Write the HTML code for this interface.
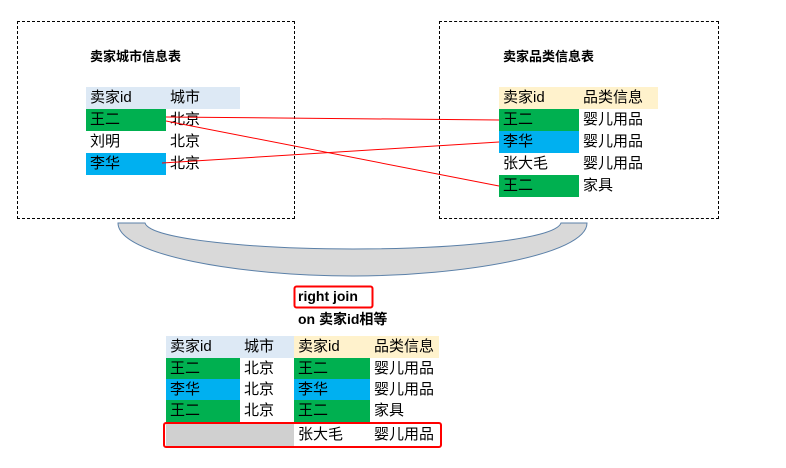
<!DOCTYPE html>
<html><head><meta charset="utf-8"><style>
body{margin:0;width:786px;height:468px;background:#fff;overflow:hidden;position:relative;font-family:"Liberation Sans","Noto Sans CJK SC",sans-serif;font-size:15px;color:#000}
.a{position:absolute}
.c{position:absolute;height:22px;line-height:22px;padding-left:4px;box-sizing:border-box;white-space:nowrap}
.g{background:#00b050}.b{background:#00b0f0}.h{background:#dde9f5}.y{background:#fff2cc}.gr{background:#d0d0d0}
.t{font-weight:bold;font-size:13px}
.t2{font-weight:bold;font-size:14px}
</style></head><body>
<div class="a" style="left:17px;top:21px;width:276px;height:196px;border:1px dashed #000"></div>
<div class="a" style="left:439px;top:21px;width:278px;height:196px;border:1px dashed #000"></div>
<div class="a t" style="left:90px;top:46px">卖家城市信息表</div>
<div class="a t" style="left:503px;top:46px">卖家品类信息表</div>

<div class="c h" style="left:86px;top:87px;width:154px">卖家id</div>
<div class="c" style="left:166px;top:87px">城市</div>
<div class="c g" style="left:86px;top:109px;width:80px">王二</div><div class="c" style="left:166px;top:109px">北京</div>
<div class="c" style="left:86px;top:131px">刘明</div><div class="c" style="left:166px;top:131px">北京</div>
<div class="c b" style="left:86px;top:153px;width:80px">李华</div><div class="c" style="left:166px;top:153px">北京</div>

<div class="c y" style="left:499px;top:87px;width:159px">卖家id</div>
<div class="c" style="left:579px;top:87px">品类信息</div>
<div class="c g" style="left:499px;top:109px;width:80px">王二</div><div class="c" style="left:579px;top:109px">婴儿用品</div>
<div class="c b" style="left:499px;top:131px;width:80px">李华</div><div class="c" style="left:579px;top:131px">婴儿用品</div>
<div class="c" style="left:499px;top:153px">张大毛</div><div class="c" style="left:579px;top:153px">婴儿用品</div>
<div class="c g" style="left:499px;top:175px;width:80px">王二</div><div class="c" style="left:579px;top:175px">家具</div>

<svg class="a" style="left:0;top:0" width="786" height="468">
<line x1="166" y1="117" x2="499" y2="120" stroke="#f00" stroke-width="1"/>
<line x1="166" y1="121" x2="499" y2="186" stroke="#f00" stroke-width="1"/>
<line x1="162" y1="163" x2="499" y2="142" stroke="#f00" stroke-width="1"/>
<path d="M118,223 L145,223 C150,240 260,249 353,249 C450,249 555,240 561,223 L587,223 C587,255 460,276 353,276 C240,276 118,255 118,223 Z" fill="#d9d9d9" stroke="#5b80a8" stroke-width="1"/>
<rect x="294.5" y="286.5" width="78" height="21" rx="2" fill="none" stroke="#f00" stroke-width="2"/>
<rect x="164" y="423" width="277" height="24" rx="2" fill="none" stroke="#f00" stroke-width="2"/>
</svg>
<div class="a t2" style="left:298px;top:288px">right join</div>
<div class="a t2" style="left:298px;top:309px">on 卖家id相等</div>

<div class="c h" style="left:166px;top:336px;width:128px">卖家id</div><div class="c" style="left:240px;top:336px">城市</div>
<div class="c y" style="left:294px;top:336px;width:145px">卖家id</div><div class="c" style="left:370px;top:336px">品类信息</div>
<div class="c g" style="left:166px;top:358px;width:74px">王二</div><div class="c" style="left:240px;top:358px">北京</div><div class="c g" style="left:294px;top:358px;width:76px">王二</div><div class="c" style="left:370px;top:358px">婴儿用品</div>
<div class="c b" style="left:166px;top:379px;width:74px">李华</div><div class="c" style="left:240px;top:379px">北京</div><div class="c b" style="left:294px;top:379px;width:76px">李华</div><div class="c" style="left:370px;top:379px">婴儿用品</div>
<div class="c g" style="left:166px;top:400px;width:74px">王二</div><div class="c" style="left:240px;top:400px">北京</div><div class="c g" style="left:294px;top:400px;width:76px">王二</div><div class="c" style="left:370px;top:400px">家具</div>
<div class="c gr" style="left:166px;top:424px;width:128px"></div>
<div class="c" style="left:294px;top:424px">张大毛</div><div class="c" style="left:370px;top:424px">婴儿用品</div>
</body></html>
